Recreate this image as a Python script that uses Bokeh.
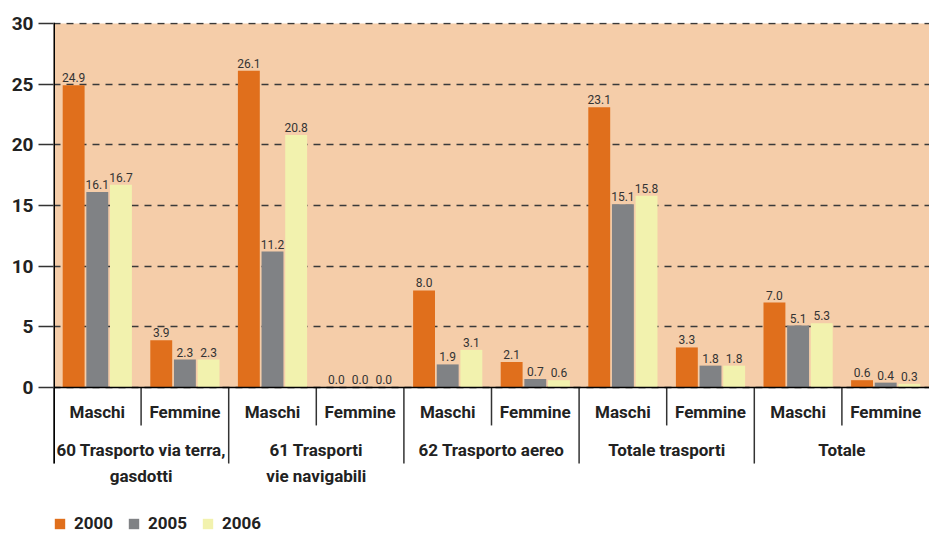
from bokeh.plotting import figure
from bokeh.models import (FactorRange, Range1d, ColumnDataSource, Legend, LegendItem,
                          BoxAnnotation)
from bokeh.transform import dodge
from bokeh.core.properties import value
from bokeh.embed import file_html
from bokeh.resources import INLINE

groups = ["60 Trasporto via terra,\ngasdotti", "61 Trasporti\nvie navigabili",
          "62 Trasporto aereo", "Totale trasporti", "Totale"]
sexes = ["Maschi", "Femmine"]
years = ["2000", "2005", "2006"]
v2000 = [24.9, 3.9, 26.1, 0.0, 8.0, 2.1, 23.1, 3.3, 7.0, 0.6]
v2005 = [16.1, 2.3, 11.2, 0.0, 1.9, 0.7, 15.1, 1.8, 5.1, 0.4]
v2006 = [16.7, 2.3, 20.8, 0.0, 3.1, 0.6, 15.8, 1.8, 5.3, 0.3]
y_ticks = [0, 5, 10, 15, 20, 25, 30]
y_max = 30

colors = ["#E06F1C", "#808285", "#F2F2AE"]
FONT = "Roboto"

factors = [(g, s) for g in groups for s in sexes]
src = ColumnDataSource(dict(
    x=factors,
    v2000=v2000, v2005=v2005, v2006=v2006,
    t2000=[f"{v:.1f}" for v in v2000],
    t2005=[f"{v:.1f}" for v in v2005],
    t2006=[f"{v:.1f}" for v in v2006],
))

# y range extends below 0 to host the category labels and the legend
LABEL_DEPTH = 6.27   # depth of the group separators (below 0)
SUB_DEPTH = 3.13     # depth of the Maschi/Femmine separators
p = figure(x_range=FactorRange(*factors, factor_padding=0, group_padding=0,
                               subgroup_padding=0, range_padding=0),
           y_range=Range1d(-12.2, y_max + 0.08), width=929, height=535,
           output_backend="svg", toolbar_location=None,
           min_border_left=53, min_border_right=0, min_border_top=22,
           min_border_bottom=0)
p.outline_line_color = None
p.background_fill_color = "white"
p.border_fill_color = "white"

# peach plotting area (0..30)
p.add_layout(BoxAnnotation(bottom=0, top=y_max, fill_color="#F5CDA9",
                           fill_alpha=1, line_color=None, level="image"))

offsets = [-0.27, 0.0, 0.27]
items = []
for yr, off, col in zip(years, offsets, colors):
    r = p.vbar(x=dodge("x", off, range=p.x_range), top="v" + yr, width=0.25,
               source=src, fill_color=col, line_color=None)
    items.append(LegendItem(label=yr, renderers=[r]))
    p.text(x=dodge("x", off, range=p.x_range), y="v" + yr, text="t" + yr,
           source=src, text_font=value(FONT), text_font_size="12px",
           text_color="#333333", text_align="center", text_baseline="bottom",
           y_offset=-3)

# separators: short between sexes, long between groups
sep_x = [float(i) for i in range(len(factors))]
sep_y1 = [-LABEL_DEPTH if i % 2 == 0 else -SUB_DEPTH for i in range(len(factors))]
sep_src = ColumnDataSource(dict(x=sep_x, y0=[0.0] * len(sep_x), y1=sep_y1))
p.segment(x0="x", y0="y0", x1="x", y1="y1", source=sep_src,
          line_color="#333333", line_width=1.5)
# left axis line, running from the top down to the end of the group separator
p.segment(x0=[0.0], y0=[-LABEL_DEPTH], x1=[0.0], y1=[y_max + 0.08],
          line_color="black", line_width=3)

# grid
p.xgrid.visible = False
p.ygrid.ticker = y_ticks
p.ygrid.grid_line_color = "#3a3a3a"
p.ygrid.grid_line_dash = "7 6"
p.ygrid.grid_line_width = 1.3

# y axis
p.yaxis.ticker = y_ticks
p.yaxis.axis_line_color = None
p.yaxis.major_tick_out = 15
p.yaxis.major_tick_in = 0
p.yaxis.major_tick_line_color = "#333333"
p.yaxis.major_tick_line_width = 1.5
p.yaxis.minor_tick_line_color = None
p.yaxis.major_label_standoff = 5
p.yaxis.major_label_text_font = FONT
p.yaxis.major_label_text_font_style = "bold"
p.yaxis.major_label_text_font_size = "19px"
p.yaxis.major_label_text_color = "#222222"

# x axis, fixed at y = 0
xa = p.xaxis[0]
xa.fixed_location = 0
xa.axis_line_color = "black"
xa.axis_line_width = 1.5
xa.major_tick_out = 0
xa.major_tick_in = 0
xa.major_label_standoff = 15
xa.major_label_text_font = FONT
xa.major_label_text_font_style = "bold"
xa.major_label_text_font_size = "17px"
xa.major_label_text_color = "#222222"
xa.group_text_font = FONT
xa.group_text_font_style = "bold"
xa.group_text_font_size = "17px"
xa.group_text_color = "#222222"
xa.group_text_line_height = 1.27
xa.separator_line_alpha = 0

legend = Legend(items=items, orientation="horizontal", location=(0, 2),
                label_text_font=FONT, label_text_font_style="bold",
                label_text_font_size="17px", label_text_color="#222222",
                glyph_width=13, glyph_height=13, spacing=14, label_standoff=8,
                border_line_alpha=0, background_fill_alpha=0,
                padding=0, margin=0)
p.add_layout(legend)

open("out.html", "w").write(file_html(p, INLINE))
